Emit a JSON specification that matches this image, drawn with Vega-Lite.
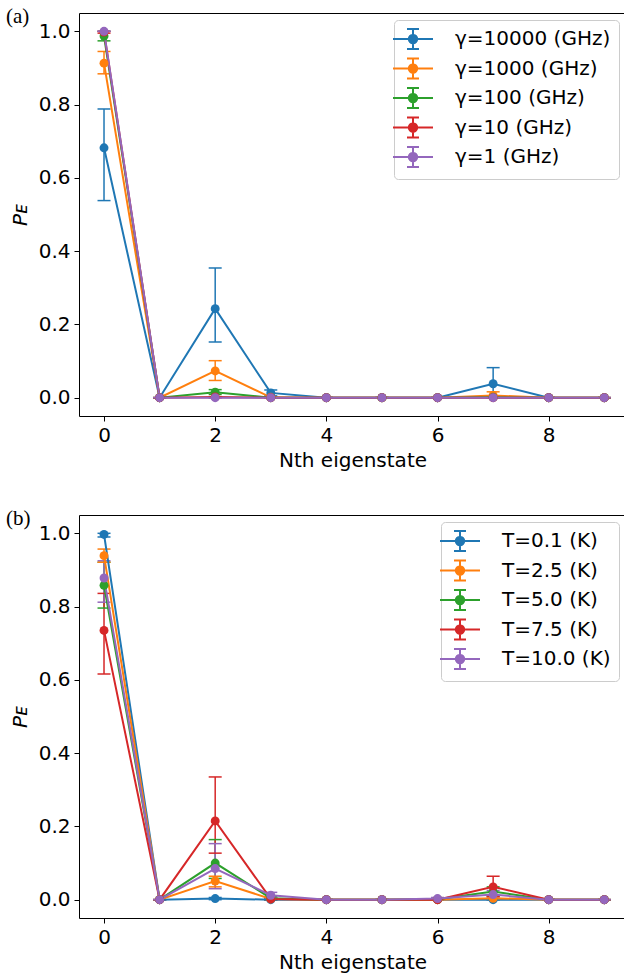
{
  "$schema": "https://vega.github.io/schema/vega-lite/v6.json",
  "padding": {"left": 5, "top": 5, "right": 0, "bottom": 0},
  "background": "white",
  "spacing": 99,
  "bounds": "flush",
  "config": {
    "view": {"stroke": "black", "strokeWidth": 1},
    "font": "DejaVu Sans",
    "axis": {"grid": false, "domain": false, "tickColor": "black", "tickSize": 5, "tickWidth": 1, "labelFont": "DejaVu Sans", "labelFontSize": 20, "labelColor": "black", "titleFont": "DejaVu Sans", "titleFontSize": 20, "titleFontWeight": "normal", "titleColor": "black"},
    "legend": {"title": null, "orient": "top-right", "offset": 7, "symbolType": "M-2,0H2M0,-1V1M-0.6,-1H0.6M-0.6,1H0.6M0.42,0A0.42,0.42,0,1,1,-0.42,0A0.42,0.42,0,1,1,0.42,0Z", "symbolSize": 400, "symbolStrokeWidth": 2, "labelFont": "DejaVu Sans", "labelFontSize": 20, "labelColor": "black", "strokeColor": "#cccccc", "fillColor": "rgba(255,255,255,0.8)", "cornerRadius": 4, "padding": 8, "rowPadding": 1.5, "labelOffset": 31},
    "title": {"font": "Liberation Serif", "fontSize": 21, "fontWeight": "normal", "color": "black", "anchor": "start", "frame": "group", "baseline": "top", "offset": 0, "dx": -73, "dy": 18}
  },
  "datasets": {
    "a": [
      {"s": "γ=10000 (GHz)", "n": 0, "p": 0.682, "lo": 0.538, "hi": 0.788},
      {"s": "γ=10000 (GHz)", "n": 1, "p": 0, "lo": 0, "hi": 0},
      {"s": "γ=10000 (GHz)", "n": 2, "p": 0.243, "lo": 0.152, "hi": 0.354},
      {"s": "γ=10000 (GHz)", "n": 3, "p": 0.013, "lo": 0.005, "hi": 0.021},
      {"s": "γ=10000 (GHz)", "n": 4, "p": 0, "lo": 0, "hi": 0},
      {"s": "γ=10000 (GHz)", "n": 5, "p": 0, "lo": 0, "hi": 0},
      {"s": "γ=10000 (GHz)", "n": 6, "p": 0, "lo": 0, "hi": 0},
      {"s": "γ=10000 (GHz)", "n": 7, "p": 0.038, "lo": 0, "hi": 0.082},
      {"s": "γ=10000 (GHz)", "n": 8, "p": 0, "lo": 0, "hi": 0},
      {"s": "γ=10000 (GHz)", "n": 9, "p": 0, "lo": 0, "hi": 0},
      {"s": "γ=1000 (GHz)", "n": 0, "p": 0.913, "lo": 0.884, "hi": 0.945},
      {"s": "γ=1000 (GHz)", "n": 1, "p": 0, "lo": 0, "hi": 0},
      {"s": "γ=1000 (GHz)", "n": 2, "p": 0.073, "lo": 0.047, "hi": 0.101},
      {"s": "γ=1000 (GHz)", "n": 3, "p": 0.001, "lo": 0, "hi": 0.002},
      {"s": "γ=1000 (GHz)", "n": 4, "p": 0, "lo": 0, "hi": 0},
      {"s": "γ=1000 (GHz)", "n": 5, "p": 0, "lo": 0, "hi": 0},
      {"s": "γ=1000 (GHz)", "n": 6, "p": 0, "lo": 0, "hi": 0},
      {"s": "γ=1000 (GHz)", "n": 7, "p": 0.006, "lo": 0, "hi": 0.016},
      {"s": "γ=1000 (GHz)", "n": 8, "p": 0, "lo": 0, "hi": 0},
      {"s": "γ=1000 (GHz)", "n": 9, "p": 0, "lo": 0, "hi": 0},
      {"s": "γ=100 (GHz)", "n": 0, "p": 0.987, "lo": 0.974, "hi": 1.0},
      {"s": "γ=100 (GHz)", "n": 1, "p": 0, "lo": 0, "hi": 0},
      {"s": "γ=100 (GHz)", "n": 2, "p": 0.015, "lo": 0.009, "hi": 0.022},
      {"s": "γ=100 (GHz)", "n": 3, "p": 0, "lo": 0, "hi": 0},
      {"s": "γ=100 (GHz)", "n": 4, "p": 0, "lo": 0, "hi": 0},
      {"s": "γ=100 (GHz)", "n": 5, "p": 0, "lo": 0, "hi": 0},
      {"s": "γ=100 (GHz)", "n": 6, "p": 0, "lo": 0, "hi": 0},
      {"s": "γ=100 (GHz)", "n": 7, "p": 0.001, "lo": 0, "hi": 0.002},
      {"s": "γ=100 (GHz)", "n": 8, "p": 0, "lo": 0, "hi": 0},
      {"s": "γ=100 (GHz)", "n": 9, "p": 0, "lo": 0, "hi": 0},
      {"s": "γ=10 (GHz)", "n": 0, "p": 0.998, "lo": 0.995, "hi": 1.0},
      {"s": "γ=10 (GHz)", "n": 1, "p": 0, "lo": 0, "hi": 0},
      {"s": "γ=10 (GHz)", "n": 2, "p": 0.002, "lo": 0.001, "hi": 0.003},
      {"s": "γ=10 (GHz)", "n": 3, "p": 0, "lo": 0, "hi": 0},
      {"s": "γ=10 (GHz)", "n": 4, "p": 0, "lo": 0, "hi": 0},
      {"s": "γ=10 (GHz)", "n": 5, "p": 0, "lo": 0, "hi": 0},
      {"s": "γ=10 (GHz)", "n": 6, "p": 0, "lo": 0, "hi": 0},
      {"s": "γ=10 (GHz)", "n": 7, "p": 0, "lo": 0, "hi": 0},
      {"s": "γ=10 (GHz)", "n": 8, "p": 0, "lo": 0, "hi": 0},
      {"s": "γ=10 (GHz)", "n": 9, "p": 0, "lo": 0, "hi": 0},
      {"s": "γ=1 (GHz)", "n": 0, "p": 1.0, "lo": 1.0, "hi": 1.0},
      {"s": "γ=1 (GHz)", "n": 1, "p": 0, "lo": 0, "hi": 0},
      {"s": "γ=1 (GHz)", "n": 2, "p": 0, "lo": 0, "hi": 0},
      {"s": "γ=1 (GHz)", "n": 3, "p": 0, "lo": 0, "hi": 0},
      {"s": "γ=1 (GHz)", "n": 4, "p": 0, "lo": 0, "hi": 0},
      {"s": "γ=1 (GHz)", "n": 5, "p": 0, "lo": 0, "hi": 0},
      {"s": "γ=1 (GHz)", "n": 6, "p": 0, "lo": 0, "hi": 0},
      {"s": "γ=1 (GHz)", "n": 7, "p": 0, "lo": 0, "hi": 0},
      {"s": "γ=1 (GHz)", "n": 8, "p": 0, "lo": 0, "hi": 0},
      {"s": "γ=1 (GHz)", "n": 9, "p": 0, "lo": 0, "hi": 0}
    ],
    "b": [
      {"s": "T=0.1 (K)", "n": 0, "p": 0.997, "lo": 0.99, "hi": 1.0},
      {"s": "T=0.1 (K)", "n": 1, "p": 0, "lo": 0, "hi": 0},
      {"s": "T=0.1 (K)", "n": 2, "p": 0.003, "lo": 0.0, "hi": 0.006},
      {"s": "T=0.1 (K)", "n": 3, "p": 0, "lo": 0, "hi": 0},
      {"s": "T=0.1 (K)", "n": 4, "p": 0, "lo": 0, "hi": 0},
      {"s": "T=0.1 (K)", "n": 5, "p": 0, "lo": 0, "hi": 0},
      {"s": "T=0.1 (K)", "n": 6, "p": 0, "lo": 0, "hi": 0},
      {"s": "T=0.1 (K)", "n": 7, "p": 0, "lo": 0, "hi": 0},
      {"s": "T=0.1 (K)", "n": 8, "p": 0, "lo": 0, "hi": 0},
      {"s": "T=0.1 (K)", "n": 9, "p": 0, "lo": 0, "hi": 0},
      {"s": "T=2.5 (K)", "n": 0, "p": 0.939, "lo": 0.921, "hi": 0.957},
      {"s": "T=2.5 (K)", "n": 1, "p": 0, "lo": 0, "hi": 0},
      {"s": "T=2.5 (K)", "n": 2, "p": 0.051, "lo": 0.035, "hi": 0.064},
      {"s": "T=2.5 (K)", "n": 3, "p": 0.002, "lo": 0, "hi": 0.004},
      {"s": "T=2.5 (K)", "n": 4, "p": 0, "lo": 0, "hi": 0},
      {"s": "T=2.5 (K)", "n": 5, "p": 0, "lo": 0, "hi": 0},
      {"s": "T=2.5 (K)", "n": 6, "p": 0, "lo": 0, "hi": 0},
      {"s": "T=2.5 (K)", "n": 7, "p": 0.004, "lo": 0, "hi": 0.01},
      {"s": "T=2.5 (K)", "n": 8, "p": 0, "lo": 0, "hi": 0},
      {"s": "T=2.5 (K)", "n": 9, "p": 0, "lo": 0, "hi": 0},
      {"s": "T=5.0 (K)", "n": 0, "p": 0.858, "lo": 0.796, "hi": 0.921},
      {"s": "T=5.0 (K)", "n": 1, "p": 0, "lo": 0, "hi": 0},
      {"s": "T=5.0 (K)", "n": 2, "p": 0.1, "lo": 0.058, "hi": 0.164},
      {"s": "T=5.0 (K)", "n": 3, "p": 0.004, "lo": 0, "hi": 0.008},
      {"s": "T=5.0 (K)", "n": 4, "p": 0, "lo": 0, "hi": 0},
      {"s": "T=5.0 (K)", "n": 5, "p": 0, "lo": 0, "hi": 0},
      {"s": "T=5.0 (K)", "n": 6, "p": 0.001, "lo": 0, "hi": 0.002},
      {"s": "T=5.0 (K)", "n": 7, "p": 0.022, "lo": 0.01, "hi": 0.035},
      {"s": "T=5.0 (K)", "n": 8, "p": 0, "lo": 0, "hi": 0},
      {"s": "T=5.0 (K)", "n": 9, "p": 0, "lo": 0, "hi": 0},
      {"s": "T=7.5 (K)", "n": 0, "p": 0.735, "lo": 0.616, "hi": 0.836},
      {"s": "T=7.5 (K)", "n": 1, "p": 0, "lo": 0, "hi": 0},
      {"s": "T=7.5 (K)", "n": 2, "p": 0.215, "lo": 0.127, "hi": 0.335},
      {"s": "T=7.5 (K)", "n": 3, "p": 0.002, "lo": 0, "hi": 0.004},
      {"s": "T=7.5 (K)", "n": 4, "p": 0, "lo": 0, "hi": 0},
      {"s": "T=7.5 (K)", "n": 5, "p": 0, "lo": 0, "hi": 0},
      {"s": "T=7.5 (K)", "n": 6, "p": 0, "lo": 0, "hi": 0},
      {"s": "T=7.5 (K)", "n": 7, "p": 0.035, "lo": 0.008, "hi": 0.064},
      {"s": "T=7.5 (K)", "n": 8, "p": 0, "lo": 0, "hi": 0},
      {"s": "T=7.5 (K)", "n": 9, "p": 0, "lo": 0, "hi": 0},
      {"s": "T=10.0 (K)", "n": 0, "p": 0.878, "lo": 0.812, "hi": 0.925},
      {"s": "T=10.0 (K)", "n": 1, "p": 0, "lo": 0, "hi": 0},
      {"s": "T=10.0 (K)", "n": 2, "p": 0.085, "lo": 0.03, "hi": 0.153},
      {"s": "T=10.0 (K)", "n": 3, "p": 0.012, "lo": 0.005, "hi": 0.02},
      {"s": "T=10.0 (K)", "n": 4, "p": 0, "lo": 0, "hi": 0},
      {"s": "T=10.0 (K)", "n": 5, "p": 0, "lo": 0, "hi": 0},
      {"s": "T=10.0 (K)", "n": 6, "p": 0.003, "lo": 0, "hi": 0.006},
      {"s": "T=10.0 (K)", "n": 7, "p": 0.014, "lo": 0.005, "hi": 0.025},
      {"s": "T=10.0 (K)", "n": 8, "p": 0, "lo": 0, "hi": 0},
      {"s": "T=10.0 (K)", "n": 9, "p": 0, "lo": 0, "hi": 0}
    ]
  },
  "resolve": {"scale": {"color": "independent", "x": "independent", "y": "independent"}, "legend": {"color": "independent"}},
  "vconcat": [
    {
      "width": 547, "height": 403,
      "title": {"text": "(a)"},
      "data": {"name": "a"},
      "encoding": {
        "x": {"field": "n", "type": "quantitative", "scale": {"domain": [-0.45, 9.39], "nice": false, "zero": false}, "axis": {"values": [0, 2, 4, 6, 8], "title": "Nth eigenstate", "labelPadding": 4, "titlePadding": 5}},
        "y": {"field": "p", "type": "quantitative", "scale": {"domain": [-0.05, 1.05], "nice": false, "zero": false}, "axis": {"values": [0, 0.2, 0.4, 0.6, 0.8, 1.0], "format": ".1f", "title": "Pᴇ", "titleFontStyle": "italic", "labelPadding": 4, "titlePadding": 8}},
        "color": {"field": "s", "type": "nominal", "sort": ["γ=10000 (GHz)", "γ=1000 (GHz)", "γ=100 (GHz)", "γ=10 (GHz)", "γ=1 (GHz)"], "scale": {"domain": ["γ=10000 (GHz)", "γ=1000 (GHz)", "γ=100 (GHz)", "γ=10 (GHz)", "γ=1 (GHz)"], "range": ["#1f77b4", "#ff7f0e", "#2ca02c", "#d62728", "#9467bd"]}}
      },
      "layer": [
        {"mark": {"type": "rule", "strokeWidth": 1.5}, "encoding": {"y": {"field": "lo", "type": "quantitative"}, "y2": {"field": "hi"}}},
        {"mark": {"type": "tick", "orient": "horizontal", "size": 13, "thickness": 1.5, "opacity": 1}, "encoding": {"y": {"field": "hi", "type": "quantitative"}}},
        {"mark": {"type": "tick", "orient": "horizontal", "size": 13, "thickness": 1.5, "opacity": 1}, "encoding": {"y": {"field": "lo", "type": "quantitative"}}},
        {"mark": {"type": "line", "strokeWidth": 2}},
        {"mark": {"type": "point", "filled": true, "size": 80, "opacity": 1}}
      ]
    },
    {
      "width": 547, "height": 403,
      "title": {"text": "(b)"},
      "data": {"name": "b"},
      "encoding": {
        "x": {"field": "n", "type": "quantitative", "scale": {"domain": [-0.45, 9.39], "nice": false, "zero": false}, "axis": {"values": [0, 2, 4, 6, 8], "title": "Nth eigenstate", "labelPadding": 4, "titlePadding": 5}},
        "y": {"field": "p", "type": "quantitative", "scale": {"domain": [-0.05, 1.05], "nice": false, "zero": false}, "axis": {"values": [0, 0.2, 0.4, 0.6, 0.8, 1.0], "format": ".1f", "title": "Pᴇ", "titleFontStyle": "italic", "labelPadding": 4, "titlePadding": 8}},
        "color": {"field": "s", "type": "nominal", "sort": ["T=0.1 (K)", "T=2.5 (K)", "T=5.0 (K)", "T=7.5 (K)", "T=10.0 (K)"], "scale": {"domain": ["T=0.1 (K)", "T=2.5 (K)", "T=5.0 (K)", "T=7.5 (K)", "T=10.0 (K)"], "range": ["#1f77b4", "#ff7f0e", "#2ca02c", "#d62728", "#9467bd"]}}
      },
      "layer": [
        {"mark": {"type": "rule", "strokeWidth": 1.5}, "encoding": {"y": {"field": "lo", "type": "quantitative"}, "y2": {"field": "hi"}}},
        {"mark": {"type": "tick", "orient": "horizontal", "size": 13, "thickness": 1.5, "opacity": 1}, "encoding": {"y": {"field": "hi", "type": "quantitative"}}},
        {"mark": {"type": "tick", "orient": "horizontal", "size": 13, "thickness": 1.5, "opacity": 1}, "encoding": {"y": {"field": "lo", "type": "quantitative"}}},
        {"mark": {"type": "line", "strokeWidth": 2}},
        {"mark": {"type": "point", "filled": true, "size": 80, "opacity": 1}}
      ]
    }
  ]
}
